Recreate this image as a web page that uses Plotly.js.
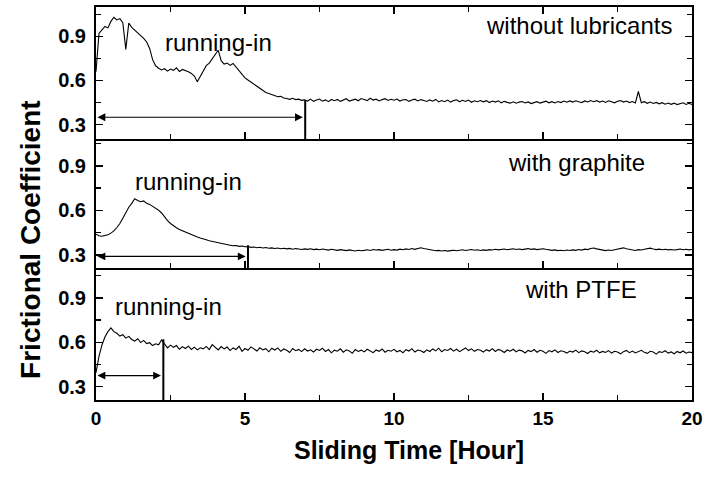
<!DOCTYPE html>
<html>
<head>
<meta charset="utf-8">
<script src="https://cdn.plot.ly/plotly-3.0.1.min.js"></script>
<style>
html,body{margin:0;padding:0;background:#fff;}
#chart{width:706px;height:478px;}
</style>
</head>
<body>
<div id="chart"></div>
<script>
// sampling step of the recorded friction curves (hours)
const timeStep = 0.1;

// Frictional coefficient, without lubricants (t = 0 ... 20 h)
const withoutLubricants = [
  0.660, 0.920, 0.945, 0.968, 0.958, 1.002, 1.030, 1.012, 1.021, 0.993,
  0.812, 0.990, 0.962, 0.944, 0.928, 0.905, 0.887, 0.862, 0.818, 0.742,
  0.700, 0.683, 0.672, 0.680, 0.664, 0.678, 0.669, 0.686, 0.661, 0.675,
  0.668, 0.659, 0.648, 0.630, 0.592, 0.628, 0.662, 0.701, 0.718, 0.748,
  0.772, 0.806, 0.735, 0.712, 0.719, 0.703, 0.716, 0.692, 0.671, 0.645,
  0.618, 0.603, 0.589, 0.578, 0.561, 0.549, 0.532, 0.519, 0.511, 0.502,
  0.497, 0.489, 0.492, 0.481, 0.478, 0.472, 0.479, 0.470, 0.473, 0.465,
  0.468, 0.460, 0.473, 0.458, 0.467, 0.474, 0.459, 0.468, 0.456, 0.471,
  0.462, 0.471, 0.458, 0.467, 0.476, 0.460, 0.469, 0.473, 0.462, 0.477,
  0.470, 0.463, 0.479, 0.467, 0.473, 0.461, 0.470, 0.476, 0.464, 0.472,
  0.466, 0.474, 0.460, 0.469, 0.471, 0.458, 0.467, 0.473, 0.461, 0.470,
  0.464, 0.457, 0.468, 0.459, 0.471, 0.454, 0.464, 0.456, 0.467, 0.453,
  0.463, 0.469, 0.455, 0.465, 0.457, 0.467, 0.452, 0.462, 0.456, 0.464,
  0.455, 0.463, 0.450, 0.460, 0.453, 0.462, 0.448, 0.458, 0.451, 0.446,
  0.455, 0.445, 0.453, 0.457, 0.447, 0.454, 0.443, 0.452, 0.456, 0.446,
  0.453, 0.459, 0.448, 0.456, 0.447, 0.457, 0.450, 0.460, 0.452, 0.461,
  0.453, 0.462, 0.455, 0.450, 0.461, 0.454, 0.464, 0.456, 0.463, 0.453,
  0.460, 0.451, 0.462, 0.454, 0.448, 0.459, 0.463, 0.453, 0.460, 0.450,
  0.457, 0.447, 0.525, 0.449, 0.456, 0.445, 0.453, 0.444, 0.451, 0.441,
  0.449, 0.439, 0.447, 0.438, 0.446, 0.436, 0.444, 0.448, 0.437, 0.445,
  0.436
];

// Frictional coefficient, with graphite
const withGraphite = [
  0.440, 0.430, 0.426, 0.429, 0.436, 0.447, 0.462, 0.485, 0.512, 0.548,
  0.589, 0.622, 0.648, 0.679, 0.668, 0.659, 0.664, 0.648, 0.641, 0.629,
  0.618, 0.602, 0.583, 0.556, 0.532, 0.512, 0.496, 0.484, 0.472, 0.463,
  0.452, 0.443, 0.436, 0.428, 0.421, 0.414, 0.410, 0.402, 0.396, 0.391,
  0.387, 0.381, 0.376, 0.372, 0.369, 0.366, 0.362, 0.364, 0.358, 0.360,
  0.355, 0.357, 0.351, 0.354, 0.349, 0.352, 0.347, 0.350, 0.345, 0.348,
  0.344, 0.347, 0.342, 0.345, 0.341, 0.344, 0.339, 0.343, 0.340, 0.337,
  0.341, 0.338, 0.342, 0.336, 0.339, 0.335, 0.340, 0.337, 0.333, 0.338,
  0.335, 0.331, 0.336, 0.333, 0.329, 0.334, 0.330, 0.327, 0.332, 0.328,
  0.331, 0.335, 0.330, 0.337, 0.333, 0.336, 0.331, 0.334, 0.338, 0.332,
  0.336, 0.333, 0.339, 0.335, 0.341, 0.337, 0.343, 0.338, 0.346, 0.349,
  0.344, 0.340, 0.336, 0.332, 0.328, 0.331, 0.327, 0.330, 0.326, 0.329,
  0.332, 0.328, 0.331, 0.335, 0.330, 0.333, 0.337, 0.332, 0.335, 0.330,
  0.334, 0.331, 0.336, 0.333, 0.338, 0.334, 0.337, 0.340, 0.335, 0.338,
  0.342, 0.337, 0.340, 0.336, 0.339, 0.343, 0.338, 0.341, 0.336, 0.339,
  0.342, 0.338, 0.335, 0.331, 0.334, 0.329, 0.332, 0.328, 0.333, 0.330,
  0.334, 0.331, 0.337, 0.333, 0.339, 0.336, 0.343, 0.347, 0.341, 0.336,
  0.332, 0.329, 0.333, 0.330, 0.335, 0.339, 0.344, 0.348, 0.342, 0.337,
  0.334, 0.330, 0.336, 0.333, 0.338, 0.342, 0.346, 0.340, 0.336, 0.339,
  0.335, 0.338, 0.334, 0.337, 0.333, 0.336, 0.340, 0.335, 0.338, 0.334,
  0.337
];

// Frictional coefficient, with PTFE
const withPTFE = [
  0.395, 0.505, 0.582, 0.636, 0.672, 0.697, 0.672, 0.661, 0.642, 0.651,
  0.628, 0.640, 0.619, 0.608, 0.624, 0.598, 0.613, 0.591, 0.597, 0.578,
  0.590, 0.583, 0.616, 0.589, 0.562, 0.581, 0.566, 0.578, 0.553, 0.571,
  0.558, 0.574, 0.552, 0.567, 0.549, 0.563, 0.556, 0.572, 0.551, 0.584,
  0.566, 0.548, 0.571, 0.555, 0.568, 0.544, 0.562, 0.551, 0.573, 0.539,
  0.558, 0.546, 0.569, 0.552, 0.541, 0.563, 0.549, 0.557, 0.536, 0.560,
  0.548, 0.562, 0.539, 0.555, 0.546, 0.531, 0.558, 0.543, 0.552, 0.537,
  0.556, 0.541, 0.549, 0.534, 0.553, 0.545, 0.560, 0.538, 0.551, 0.529,
  0.547, 0.540, 0.556, 0.533, 0.549, 0.542, 0.526, 0.551, 0.538, 0.547,
  0.535, 0.553, 0.541, 0.530, 0.548, 0.539, 0.555, 0.533, 0.546, 0.540,
  0.552, 0.536, 0.545, 0.529, 0.550, 0.541, 0.557, 0.534, 0.548, 0.543,
  0.531, 0.549, 0.538, 0.555, 0.542, 0.560, 0.536, 0.551, 0.545, 0.558,
  0.540, 0.553, 0.537, 0.549, 0.562, 0.544, 0.556, 0.539, 0.551, 0.546,
  0.534, 0.550, 0.541, 0.557, 0.538, 0.552, 0.545, 0.531, 0.548, 0.540,
  0.553, 0.536, 0.547, 0.542, 0.528, 0.545, 0.537, 0.551, 0.533, 0.546,
  0.539, 0.525, 0.544, 0.536, 0.549, 0.531, 0.543, 0.538, 0.527, 0.541,
  0.534, 0.547, 0.530, 0.542, 0.536, 0.524, 0.540, 0.533, 0.546, 0.529,
  0.538, 0.531, 0.544, 0.527, 0.539, 0.534, 0.522, 0.537, 0.545, 0.530,
  0.541, 0.528, 0.536, 0.546, 0.532, 0.525, 0.539, 0.534, 0.520, 0.537,
  0.531, 0.543, 0.527, 0.535, 0.522, 0.538, 0.529, 0.541, 0.526, 0.534,
  0.530
];

const panelLabels = ["without lubricants", "with graphite", "with PTFE"];
const runInLabel = "running-in";
// end of running-in period (hours) and arrow level / marker top per panel
const runInEnd = [7.02, 5.1, 2.26];
const arrowLevel = [0.35, 0.29, 0.375];
const markerTop = [0.465, 0.365, 0.62];

const xTickVals = [0, 5, 10, 15, 20];
const yTickVals = [0.3, 0.6, 0.9];

const series = [withoutLubricants, withGraphite, withPTFE];
const yRanges = [[0.2, 1.1], [0.21, 1.08], [0.21, 1.1]];
const domains = [[0.6634, 1], [0.3351, 0.6634], [0, 0.3351]];
const runInPos = [[4.11, 0.86], [3.09, 0.793], [2.42, 0.843]];
const labelPos = [[16.21, 0.973], [16.11, 0.925], [16.28, 0.956]];

const FONT = "Liberation Sans, Arial, Helvetica, sans-serif";

const traces = series.map((vals, i) => ({
  type: "scatter",
  mode: "lines",
  x: vals.map((_, k) => +(k * timeStep).toFixed(2)),
  y: vals,
  xaxis: i === 0 ? "x" : "x" + (i + 1),
  yaxis: i === 0 ? "y" : "y" + (i + 1),
  line: { color: "#000", width: 1.1 },
  hoverinfo: "skip",
  showlegend: false
}));

const layout = {
  width: 706,
  height: 478,
  margin: { l: 96, r: 14, t: 7, b: 78 },
  paper_bgcolor: "#fff",
  plot_bgcolor: "#fff",
  font: { family: FONT, color: "#000" },
  showlegend: false,
  annotations: [],
  shapes: []
};

for (let i = 0; i < 3; i++) {
  const xn = i === 0 ? "xaxis" : "xaxis" + (i + 1);
  const yn = i === 0 ? "yaxis" : "yaxis" + (i + 1);
  const xr = i === 0 ? "x" : "x" + (i + 1);
  const yr = i === 0 ? "y" : "y" + (i + 1);
  layout[xn] = {
    anchor: yr,
    range: [0, 20],
    tickvals: xTickVals,
    ticktext: xTickVals.map(String),
    ticks: "inside",
    ticklen: 7,
    tickwidth: 1.5,
    tickcolor: "#000",
    minor: { dtick: 2.5, tick0: 0, ticks: "inside", ticklen: 5, tickwidth: 1.5, tickcolor: "#000", showgrid: false },
    showline: true,
    linewidth: 2,
    linecolor: "#000",
    mirror: i === 0 ? "ticks" : false,
    showgrid: false,
    zeroline: false,
    showticklabels: i === 2,
    tickfont: { family: FONT, size: 19, weight: 700, color: "#000" },
    fixedrange: true
  };
  if (i > 0) layout[xn].matches = "x";
  layout[yn] = {
    anchor: xr,
    domain: domains[i],
    range: yRanges[i],
    tickvals: yTickVals,
    ticktext: yTickVals.map(v => v.toFixed(1)),
    ticks: "inside",
    ticklen: 7,
    tickwidth: 1.5,
    tickcolor: "#000",
    minor: { dtick: 0.15, tick0: 0, ticks: "inside", ticklen: 5, tickwidth: 1.5, tickcolor: "#000", showgrid: false },
    showline: true,
    linewidth: 2,
    linecolor: "#000",
    mirror: "ticks",
    showgrid: false,
    zeroline: false,
    ticklabelstandoff: 4,
    tickfont: { family: FONT, size: 20, weight: 700, color: "#000" },
    fixedrange: true
  };

  // "running-in" text
  layout.annotations.push({
    xref: xr, yref: yr, x: runInPos[i][0], y: runInPos[i][1],
    text: runInLabel, showarrow: false, xanchor: "center", yanchor: "middle",
    font: { family: FONT, size: 24, color: "#000" }
  });
  // panel label
  layout.annotations.push({
    xref: xr, yref: yr, x: labelPos[i][0], y: labelPos[i][1],
    text: panelLabels[i], showarrow: false, xanchor: "center", yanchor: "middle",
    font: { family: FONT, size: 24, color: "#000" }
  });
  // double headed running-in arrow
  layout.annotations.push({
    xref: xr, yref: yr, axref: xr, ayref: yr,
    x: runInEnd[i] - 0.08, y: arrowLevel[i], ax: 0, ay: arrowLevel[i],
    text: " ", font: { size: 1 },
    showarrow: true, arrowhead: 2, arrowside: "end+start",
    arrowsize: 1.3, arrowwidth: 1.2, arrowcolor: "#000",
    standoff: 0, startstandoff: 0
  });
  // end-of-running-in marker
  layout.shapes.push({
    type: "line", xref: xr, yref: yr,
    x0: runInEnd[i], x1: runInEnd[i], y0: markerTop[i], y1: yRanges[i][0],
    line: { color: "#000", width: 2 }
  });
}

// axis titles
layout.annotations.push({
  xref: "paper", yref: "paper", x: 0.525, y: -0.127, yanchor: "middle",
  text: "Sliding Time [Hour]", showarrow: false,
  font: { family: FONT, size: 25, weight: 700, color: "#000" }
});
layout.annotations.push({
  xref: "paper", yref: "paper", x: -0.111, y: 0.407, textangle: -90,
  xanchor: "center", yanchor: "middle",
  text: "Frictional Coefficient", showarrow: false,
  font: { family: FONT, size: 28, weight: 700, color: "#000" }
});

Plotly.newPlot("chart", traces, layout, { displayModeBar: false, staticPlot: true });
</script>
</body>
</html>
